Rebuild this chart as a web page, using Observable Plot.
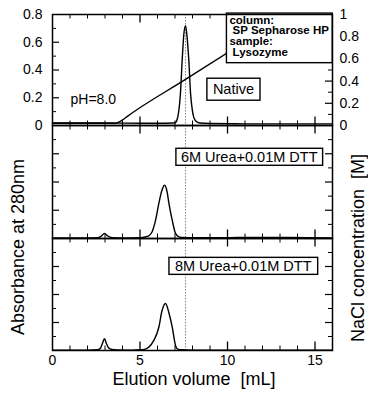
<!DOCTYPE html>
<html><head><meta charset="utf-8">
<script src="https://cdn.jsdelivr.net/npm/d3@7"></script>
<script src="https://cdn.jsdelivr.net/npm/@observablehq/plot@0.6"></script>
<style>
body{margin:0;background:#fff;}
#chart{position:relative;width:368px;height:394px;font-family:"Liberation Sans",Arial,sans-serif;overflow:hidden;}
#chart svg{position:absolute;left:0;}
.lbl{position:absolute;white-space:pre;font-size:18px;line-height:18px;color:#000;}
</style></head><body><div id="chart"></div>
<script>
// ---- data ----
// Native (top panel): elution volume [mL] and absorbance
const nativeX = [0, 2, 4, 6, 6.9, 7.0, 7.1, 7.2, 7.31, 7.41, 7.5, 7.6, 7.68, 7.79, 7.89, 7.98, 8.07, 8.2, 8.4, 9, 11, 13, 16];
const nativeY = [0.018, 0.018, 0.017, 0.016, 0.018, 0.02, 0.035, 0.09, 0.23, 0.47, 0.65, 0.72, 0.65, 0.47, 0.23, 0.12, 0.06, 0.03, 0.018, 0.014, 0.012, 0.012, 0.012];
// 6M Urea + 0.01M DTT (middle panel)
const urea6X = [0, 1, 2, 2.6, 2.8, 2.97, 3.15, 3.4, 4, 5, 5.3, 5.5, 5.7, 5.89, 6.08, 6.25, 6.4, 6.55, 6.65, 6.84, 7.03, 7.22, 7.5, 8, 10, 12, 13.5, 16];
const urea6Y = [0.004, 0.004, 0.004, 0.006, 0.018, 0.036, 0.018, 0.006, 0.004, 0.006, 0.011, 0.019, 0.05, 0.13, 0.25, 0.34, 0.377, 0.33, 0.25, 0.13, 0.036, 0.012, 0.007, 0.005, 0.006, 0.008, 0.008, 0.004];
// 8M Urea + 0.01M DTT (bottom panel)
const urea8X = [0, 1, 2, 2.6, 2.75, 2.85, 2.97, 3.08, 3.2, 3.4, 3.7, 4.5, 5, 5.3, 5.5, 5.79, 6.08, 6.25, 6.46, 6.65, 6.84, 7.03, 7.12, 7.4, 8, 10, 16];
const urea8Y = [0.003, 0.003, 0.003, 0.005, 0.018, 0.05, 0.084, 0.05, 0.02, 0.007, 0.004, 0.003, 0.005, 0.01, 0.024, 0.072, 0.168, 0.28, 0.336, 0.27, 0.168, 0.036, 0.012, 0.005, 0.003, 0.003, 0.003];
// NaCl gradient [M] (right axis, top panel)
const naclX = [0, 3.5, 3.75, 4.0, 4.3, 7.6, 13.45];
const naclY = [0.02, 0.02, 0.028, 0.05, 0.085, 0.415, 1.0];
// dotted marker position
const markerX = [7.6];
// tick labels
const xTickLabels = [0, 5, 10, 15];
const yTickLabels = [0, 0.2, 0.4, 0.6, 0.8];
const naclTickLabels = [0, 0.2, 0.4, 0.6, 0.8, 1];
const infoLines = ["column:", "\u00a0SP Sepharose HP", "sample:", "\u00a0Lysozyme"];

// ---- helpers ----
const NACL_TO_ABS = 0.8; // right axis: 1 M corresponds to 0.8 absorbance units
const toPts = (xs, ys) => xs.map((x, i) => ({x, y: ys[i]}));
const fmt = d => String(+(+d).toFixed(1));
const xMajor = [5, 10, 15];
const xMinor = d3.range(1, 16).filter(v => v % 5 !== 0);
const yMajor = [0.2, 0.4, 0.6];
const yMinor = [0.1, 0.3, 0.5, 0.7];
const rMajor = [0.2, 0.4, 0.6, 0.8].map(v => v * NACL_TO_ABS);
const rMinor = [0.1, 0.3, 0.5, 0.7, 0.9].map(v => v * NACL_TO_ABS);
const PW = 280;
const chart = document.getElementById("chart");
const FONT = "Liberation Sans, Arial, sans-serif";

function tickMarks(ph, rightMajor, rightMinor) {
  return [
    Plot.tickX(xMinor, {x: d => d, insetTop: ph - 4.5, strokeWidth: 1}),
    Plot.tickX(xMajor, {x: d => d, insetTop: ph - 8.5, strokeWidth: 1.3}),
    Plot.tickX(xMinor, {x: d => d, insetBottom: ph - 4.5, strokeWidth: 1}),
    Plot.tickX(xMajor, {x: d => d, insetBottom: ph - 8.5, strokeWidth: 1.3}),
    Plot.tickY(yMinor, {y: d => d, insetRight: PW - 4, strokeWidth: 1}),
    Plot.tickY(yMajor, {y: d => d, insetRight: PW - 7, strokeWidth: 1.2}),
    Plot.tickY(rightMinor, {y: d => d, insetLeft: PW - 4, strokeWidth: 1}),
    Plot.tickY(rightMajor, {y: d => d, insetLeft: PW - 7, strokeWidth: 1.2})
  ];
}

function panel({top, mTop, ph, mBottom, marks}) {
  const svg = Plot.plot({
    width: 368, height: mTop + ph + mBottom,
    marginLeft: 52, marginRight: 36, marginTop: mTop, marginBottom: mBottom,
    style: {fontFamily: FONT, fontSize: "14px", background: "transparent", color: "black", overflow: "visible"},
    x: {domain: [0, 16], axis: null},
    y: {domain: [0, 0.8], axis: null},
    marks
  });
  svg.style.top = top + "px";
  chart.appendChild(svg);
  return svg;
}

function boxTexts(svg, match, pad) {
  for (const t of svg.querySelectorAll("text")) {
    if (!match(t.textContent)) continue;
    const b = t.getBBox();
    const r = document.createElementNS("http://www.w3.org/2000/svg", "rect");
    r.setAttribute("x", b.x - pad.l);
    r.setAttribute("y", b.y - pad.t);
    r.setAttribute("width", b.width + pad.l + pad.r);
    r.setAttribute("height", b.height + pad.t + pad.b);
    r.setAttribute("fill", "white");
    r.setAttribute("stroke", "black");
    r.setAttribute("stroke-width", 1.4);
    const tr = t.getAttribute("transform");
    if (tr) r.setAttribute("transform", tr);
    t.parentNode.insertBefore(r, t);
  }
}

const lineOpts = {x: "x", y: "y", curve: "monotone-x", strokeWidth: 1.4};
const dotted = Plot.ruleX(markerX, {x: d => d, stroke: "#888", strokeDasharray: "1.5 1.5", strokeWidth: 1});

// ---- top panel: Native ----
const svgA = panel({
  top: 0, mTop: 14, ph: 111, mBottom: 6,
  marks: [
    dotted,
    ...tickMarks(111, rMajor, rMinor),
    Plot.line(toPts(naclX, naclY), {x: "x", y: d => d.y * NACL_TO_ABS, curve: "monotone-x", strokeWidth: 1.4}),
    Plot.line(toPts(nativeX, nativeY), lineOpts),
    Plot.axisY(yTickLabels, {anchor: "left", tickSize: 0, tickPadding: 10, tickFormat: fmt, label: null}),
    Plot.axisY(naclTickLabels.map(v => v * NACL_TO_ABS), {anchor: "right", tickSize: 0, tickPadding: 7, tickFormat: d => fmt(d / NACL_TO_ABS), label: null}),
    Plot.text(["pH=8.0"], {x: 1.03, y: 0.187, text: d => d, textAnchor: "start", fontSize: 14}),
    Plot.text(["Native"], {x: 10.34, y: 0.259, text: d => d, fontSize: 14.5}),
    Plot.text([infoLines.join("\n")], {x: 10.11, y: 0.8, text: d => d, textAnchor: "start", lineAnchor: "top", dy: 1.5, fontWeight: "bold", fontSize: 11.5, lineHeight: 0.93}),
    Plot.frame({strokeWidth: 1.5})
  ]
});
boxTexts(svgA, s => s === "Native", {l: 6, r: 6, t: 3, b: 3});
boxTexts(svgA, s => s.startsWith("column:"), {l: 3, r: 3, t: 0.5, b: 5});

// ---- middle panel: 6M Urea ----
const svgB = panel({
  top: 119, mTop: 6, ph: 113, mBottom: 6,
  marks: [
    dotted,
    ...tickMarks(113, yMajor, yMinor),
    Plot.line(toPts(urea6X, urea6Y), lineOpts),
    Plot.text(["6M Urea+0.01M DTT"], {x: 11.24, y: 0.576, text: d => d, fontSize: 14.5}),
    Plot.frame({strokeWidth: 1.5})
  ]
});
boxTexts(svgB, s => s.startsWith("6M"), {l: 5, r: 5, t: 0.5, b: 0.5});

// ---- bottom panel: 8M Urea ----
const svgC = panel({
  top: 232, mTop: 6, ph: 112, mBottom: 44,
  marks: [
    dotted,
    ...tickMarks(112, yMajor, yMinor),
    Plot.line(toPts(urea8X, urea8Y), lineOpts),
    Plot.axisX(xTickLabels, {anchor: "bottom", tickSize: 0, tickPadding: 5, label: null}),
    Plot.text(["8M Urea+0.01M DTT"], {x: 10.9, y: 0.602, text: d => d, fontSize: 14.5}),
    Plot.frame({strokeWidth: 1.5})
  ]
});
boxTexts(svgC, s => s.startsWith("8M"), {l: 6, r: 6, t: 0.5, b: 0.5});

// ---- axis titles ----
function label(text, cx, cy, rotate) {
  const d = document.createElement("div");
  d.className = "lbl";
  d.textContent = text;
  d.style.left = cx + "px";
  d.style.top = cy + "px";
  d.style.transform = `translate(-50%,-50%)${rotate ? " rotate(-90deg)" : ""}`;
  chart.appendChild(d);
}
label("Absorbance at 280nm", 17.8, 247, true);
label("NaCl concentration  [M]", 357.8, 248, true);
label("Elution volume  [mL]", 194, 379, false);
</script>
</body></html>
